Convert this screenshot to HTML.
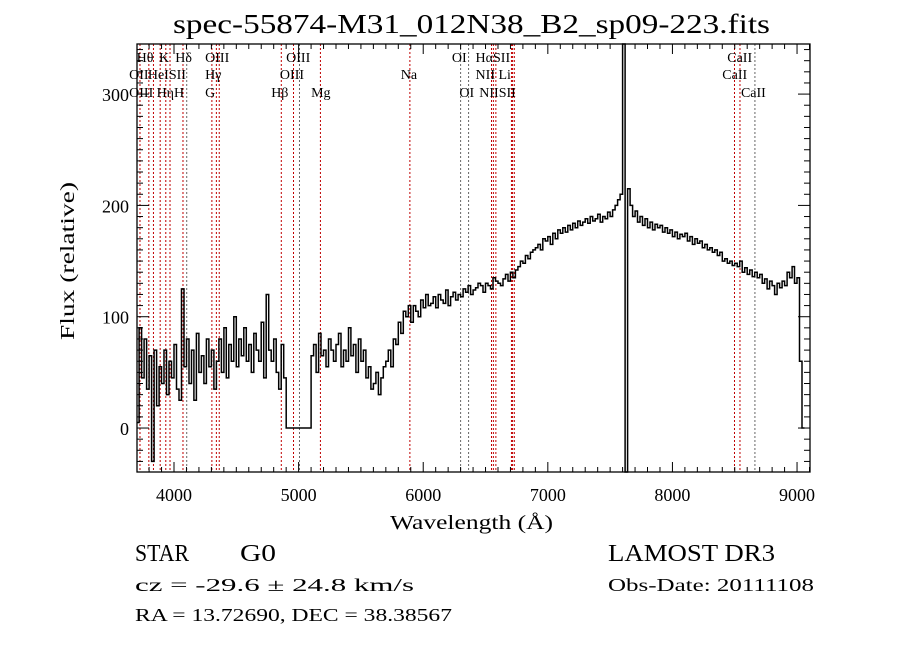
<!DOCTYPE html>
<html><head><meta charset="utf-8"><style>
html,body{margin:0;padding:0;background:#fff;}
svg{display:block;font-family:"Liberation Serif",serif;}
</style></head><body>
<svg id="chart" width="900" height="649" viewBox="0 0 900 649" xmlns="http://www.w3.org/2000/svg">
<rect width="900" height="649" fill="#fff"/>
<g id="lines"></g>
<g id="spec"></g>
<g id="axes"></g>
<g id="labels" font-family="Liberation Serif, serif" font-size="14"></g>
<text x="173" y="33" font-size="27" textLength="597" lengthAdjust="spacingAndGlyphs">spec-55874-M31_012N38_B2_sp09-223.fits</text>
<text x="390" y="529" font-size="20" textLength="163" lengthAdjust="spacingAndGlyphs">Wavelength (Å)</text>
<text transform="translate(74,340) rotate(-90)" font-size="20" textLength="158" lengthAdjust="spacingAndGlyphs">Flux (relative)</text>
<text x="135" y="561" font-size="24" textLength="54" lengthAdjust="spacingAndGlyphs">STAR</text>
<text x="240" y="561" font-size="24" textLength="36" lengthAdjust="spacingAndGlyphs">G0</text>
<text x="608" y="561" font-size="24" textLength="167" lengthAdjust="spacingAndGlyphs">LAMOST DR3</text>
<text x="135" y="591" font-size="18" textLength="279" lengthAdjust="spacingAndGlyphs">cz = -29.6 ± 24.8 km/s</text>
<text x="608" y="591" font-size="18" textLength="206" lengthAdjust="spacingAndGlyphs">Obs-Date: 20111108</text>
<text x="135" y="621" font-size="18" textLength="317" lengthAdjust="spacingAndGlyphs">RA =  13.72690, DEC =  38.38567</text>
</svg>
<script>
const waveStart = 3710, waveStep = 20;
const flux = [
5,90,45,80,35,65,-30,70,20,55,
40,70,30,60,45,75,35,25,125,55,
80,40,70,25,85,50,65,40,80,55,
70,35,60,80,50,90,45,75,60,100,
55,80,65,90,60,75,50,85,70,60,
95,45,120,70,60,80,50,35,75,45,
0,0,0,0,0,0,0,0,0,0,
65,75,50,85,65,70,55,80,70,60,
75,85,55,70,60,90,65,75,50,80,
60,70,45,55,35,40,50,30,45,55,
60,70,55,80,75,95,85,105,100,110,
95,110,105,100,115,108,120,110,112,118,
108,120,115,112,124,110,118,122,115,120,
118,125,122,128,120,124,126,130,128,122,
130,128,125,135,132,130,128,134,138,132,
140,135,142,145,150,148,155,152,158,160,
162,165,160,170,168,172,165,175,170,178,
175,180,176,182,178,184,180,186,182,185,
188,184,190,186,188,192,185,190,188,194,
190,196,200,205,210,345,-40,215,200,190,
195,185,190,182,188,180,185,178,183,180,
182,176,180,175,178,172,176,170,174,172,
175,168,172,165,170,166,168,162,165,160,
162,158,160,155,158,150,152,148,150,146,
148,145,150,140,144,138,142,136,140,135,
138,130,134,125,132,128,120,130,126,132,
128,140,135,145,130,135,60,0];
const xTicks = [4000,5000,6000,7000,8000,9000];
const yTicks = [0,100,200,300];
const lineWaves = [3727,3798,3835,3889,3934,3968,4072,4102,4304,4340,4363,4861,4959,5007,5175,5893,6300,6364,6548,6563,6583,6708,6717,6731,8498,8542,8662];
const lineGray = [false,false,false,false,false,false,false,true,false,false,false,false,false,true,false,false,true,true,false,false,false,false,false,false,false,false,true];
const labelText = ["Hθ","K","Hδ","OIII","OIII","OI","HαSII","CaII","OII","HeISII","Hγ","OIII","Na","NII Li","CaII","OIII","HηH","G","Hβ","Mg","OI","NIISII","CaII"];
const labelWave = [3700,3880,4010,4250,4900,6230,6420,8440,3640,3790,4250,4850,5820,6420,8400,3640,3860,4250,4780,5100,6290,6450,8550];
const labelRow = [0,0,0,0,0,0,0,0,1,1,1,1,1,1,1,2,2,2,2,2,2,2,2];

const X0=137,X1=810,Y0=44,Y1=472, WMIN=3703, WMAX=9104, FMIN=-39.5, FMAX=345;
const xs = w => X0 + (w-WMIN)/(WMAX-WMIN)*(X1-X0);
const ys = f => Y1 - (f-FMIN)/(FMAX-FMIN)*(Y1-Y0);
const NS="http://www.w3.org/2000/svg";
function mk(tag, attrs, parent){const e=document.createElementNS(NS,tag);for(const k in attrs)e.setAttribute(k,attrs[k]);parent.appendChild(e);return e;}

const gl=document.getElementById('lines');
lineWaves.forEach((w,i)=>{
  const l=mk('line',{x1:xs(w),x2:xs(w),y1:Y0,y2:Y1,stroke:lineGray[i]?'#666':'#c00000','stroke-width':1,'stroke-dasharray':'2,2'},gl);
  
  
});

const gs=document.getElementById('spec');
let d='';
flux.forEach((f,i)=>{
  const w=waveStart+i*waveStep;
  const fc=Math.max(FMIN,Math.min(FMAX,f));
  const xa=xs(w-waveStep/2).toFixed(1), xb=xs(w+waveStep/2).toFixed(1), y=ys(fc).toFixed(1);
  d += (i===0?'M':'L')+xa+','+y+' L'+xb+','+y+' ';
});
const pl=mk('path',{d:d,fill:'none',stroke:'#000','stroke-width':1.5},gs);



const ga=document.getElementById('axes');
const fr=mk('rect',{x:X0,y:Y0,width:X1-X0,height:Y1-Y0,fill:'none',stroke:'#000','stroke-width':1.3},ga);


for(let w=3800;w<=9100;w+=100){
  const x=xs(w), major=(w%1000===0), L=major?10:5;
  mk('line',{x1:x,x2:x,y1:Y1,y2:Y1-L,stroke:'#000'},ga);
  mk('line',{x1:x,x2:x,y1:Y0,y2:Y0+L,stroke:'#000'},ga);
}
for(let f=-30;f<=340;f+=10){
  const y=ys(f), major=(f%100===0), L=major?12:6;
  mk('line',{x1:X0,x2:X0+L,y1:y,y2:y,stroke:'#000'},ga);
  mk('line',{x1:X1,x2:X1-L,y1:y,y2:y,stroke:'#000'},ga);
}
xTicks.forEach(w=>{
  const t=mk('text',{x:xs(w),y:501,'font-size':18,'text-anchor':'middle'},ga);
  t.textContent=w;
  
  
});
yTicks.forEach(f=>{
  const t=mk('text',{x:129,y:ys(f)+7,'font-size':18,'text-anchor':'end'},ga);
  t.textContent=f;
  
  
});

const glb=document.getElementById('labels');
const rowY=[62,79,97];
labelText.forEach((s,i)=>{
  const t=mk('text',{x:xs(labelWave[i]),y:rowY[labelRow[i]]},glb);
  t.textContent=s;
  
  
});
</script>
</body></html>
